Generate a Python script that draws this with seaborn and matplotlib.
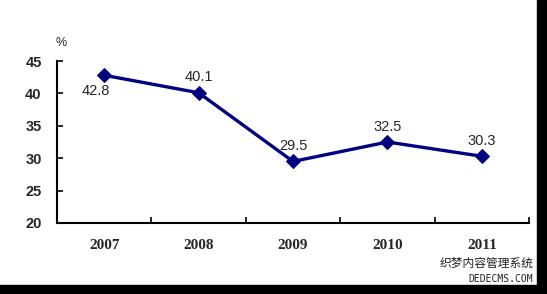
import matplotlib
matplotlib.use("Agg")
import matplotlib.pyplot as plt
import seaborn as sns
from matplotlib.patches import Rectangle

# data
years = ["2007", "2008", "2009", "2010", "2011"]
values = [42.8, 40.1, 29.5, 32.5, 30.3]
y_ticks = [20, 25, 30, 35, 40, 45]
# label offsets in points (dx, dy) for each data label
label_offsets = [(-6, -11), (0, 11), (0, 11), (0, 11), (0, 11)]

sns.set_style("white")
plt.rcParams['font.family'] = ['Liberation Sans', 'DejaVu Sans']

fig = plt.figure(figsize=(5.47, 2.94), dpi=100)
ax = fig.add_axes([0.1042, 0.2415, 0.863, 0.551])

sns.lineplot(x=years, y=values, ax=ax, color="#000080", linewidth=2.4,
             marker="D", markersize=7, markeredgecolor="#000080", sort=False)

ax.set_xlim(-0.5, 4.5)
ax.set_ylim(20, 45)
ax.set_yticks(y_ticks)
ax.set_yticklabels([str(t) for t in y_ticks], fontsize=10.5, fontweight="bold")

# x ticks at the category boundaries, labels centred in each category
ax.set_xticks([0.5, 1.5, 2.5, 3.5, 4.5])
ax.set_xticklabels([])
ax.tick_params(axis="both", direction="in", length=4, width=1.2, color="black",
               bottom=True, left=True)
ax.tick_params(axis="y", pad=11)
for i, yr in enumerate(years):
    ax.text(i, -0.14, yr, transform=ax.get_xaxis_transform(), ha="center",
            va="center", fontsize=11, fontweight="bold", family="Liberation Serif")

for sp in ["top", "right"]:
    ax.spines[sp].set_visible(False)
for sp in ["left", "bottom"]:
    ax.spines[sp].set_linewidth(1.5)
    ax.spines[sp].set_color("black")

for i, (v, off) in enumerate(zip(values, label_offsets)):
    ax.annotate(f"{v:.1f}", (i, v), xytext=off, textcoords="offset points",
                ha="center", va="center", fontsize=10.5)

ax.set_xlabel("")
ax.set_ylabel("")
fig.text(0.112, 0.853, "%", fontsize=9, ha="center", va="center")

# watermark
fig.text(0.975, 0.105, "织梦内容管理系统", fontsize=8.5, ha="right", va="center",
         family=["Noto Sans CJK SC", "DejaVu Sans"], color="#222222")
fig.text(0.975, 0.05, "DEDECMS.COM", fontsize=7, ha="right", va="center",
         family="DejaVu Sans Mono", color="#222222")

# black frame strips on right and bottom
fig.patches.append(Rectangle((537 / 547, 0), 10 / 547, 1, transform=fig.transFigure,
                             color="black", zorder=10))
fig.patches.append(Rectangle((0, 0), 1, 9 / 294, transform=fig.transFigure,
                             color="black", zorder=10))

fig.savefig("out.png", dpi=100, facecolor="white")
